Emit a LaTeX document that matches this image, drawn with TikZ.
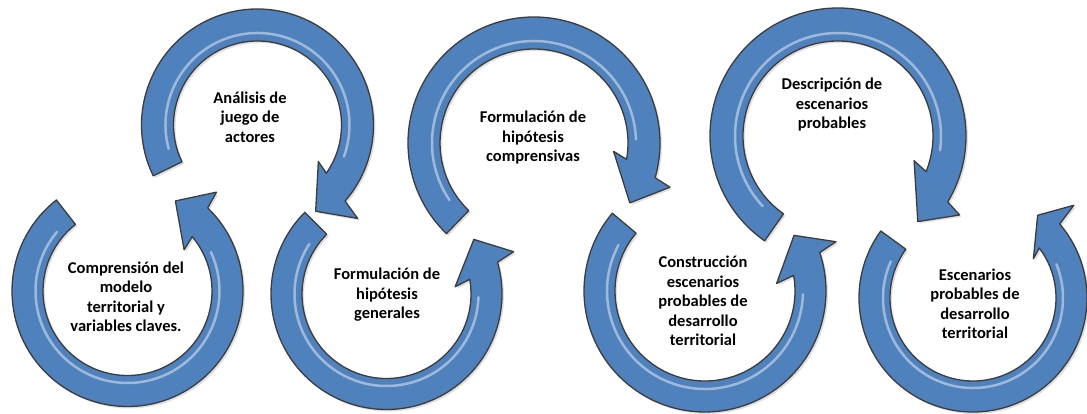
\documentclass[tikz,border=0pt]{standalone}
\usepackage{fontspec}
\setmainfont{Carlito}
\usetikzlibrary{shadows}
\definecolor{arrowblue}{RGB}{79,129,189}
\definecolor{arrowedge}{RGB}{60,60,60}
\tikzset{
  ringarrow/.style={fill=arrowblue, draw=arrowedge, line width=1.3pt, line join=round,
    drop shadow={opacity=0.25, shadow xshift=2pt, shadow yshift=-2pt}},
  gloss/.style={draw=white, opacity=0.45, line width=2.5pt, line cap=round},
  label/.style={align=center, font=\bfseries\fontsize{16.5}{19.5}\selectfont, text=black, inner sep=0pt}
}
\begin{document}
\begin{tikzpicture}[x=1pt,y=1pt]
\useasboundingbox (0,0) rectangle (1087,413);
% arrow 1
\begin{scope}[shift={(127.5,122)}]
\path[ringarrow] (128:115.5pt) arc[start angle=128, end angle=406, radius=115.5pt] -- (408:133pt) -- (422:102pt) -- (396:70pt) -- (400:84.5pt) arc[start angle=400, end angle=128, radius=84.5pt] -- cycle;
\draw[gloss] (140:92pt) arc[start angle=140, end angle=385, radius=92pt];
\end{scope}
% arrow A
\begin{scope}[shift={(257.5,288)}]
\path[ringarrow] (206:116pt) arc[start angle=206, end angle=-41, radius=116pt] -- (-43:137pt) -- (-56:104pt) -- (-31:71pt) -- (-35:84pt) arc[start angle=-35, end angle=206, radius=84pt] -- cycle;
\draw[gloss] (195:92pt) arc[start angle=195, end angle=-20, radius=92pt];
\end{scope}
% arrow 2
\begin{scope}[shift={(386.5,119)}]
\path[ringarrow] (135:115.5pt) arc[start angle=135, end angle=376, radius=115.5pt] -- (378.4:134pt) -- (392:103pt) -- (366:69pt) -- (370:84.5pt) arc[start angle=370, end angle=135, radius=84.5pt] -- cycle;
\draw[gloss] (147:92pt) arc[start angle=147, end angle=358, radius=92pt];
\end{scope}
% arrow B
\begin{scope}[shift={(534,270)}]
\path[ringarrow] (226:126pt) arc[start angle=226, end angle=-16, radius=126pt] -- (-18:143pt) -- (-32:113pt) -- (-6:80pt) -- (-10:94pt) arc[start angle=-10, end angle=226, radius=94pt] -- cycle;
\draw[gloss] (214:102pt) arc[start angle=214, end angle=2, radius=102pt];
\end{scope}
% arrow 3
\begin{scope}[shift={(705,122)}]
\path[ringarrow] (140:121pt) arc[start angle=140, end angle=378.5, radius=121pt] -- (380.6:140pt) -- (392:105pt) -- (366:72pt) -- (370:90pt) arc[start angle=370, end angle=140, radius=90pt] -- cycle;
\draw[gloss] (152:98pt) arc[start angle=152, end angle=358, radius=98pt];
\end{scope}
% arrow C
\begin{scope}[shift={(838,277)}]
\path[ringarrow] (235:128pt) arc[start angle=235, end angle=-31, radius=128pt] -- (-33:145pt) -- (-47:117pt) -- (-18:80pt) -- (-22:95pt) arc[start angle=-22, end angle=235, radius=95pt] -- cycle;
\draw[gloss] (223:103pt) arc[start angle=223, end angle=-8, radius=103pt];
\end{scope}
% arrow 4
\begin{scope}[shift={(973,115)}]
\path[ringarrow] (144:114pt) arc[start angle=144, end angle=400.5, radius=114pt] -- (402.6:137pt) -- (412:105pt) -- (393:72pt) -- (397:83pt) arc[start angle=397, end angle=144, radius=83pt] -- cycle;
\draw[gloss] (156:90pt) arc[start angle=156, end angle=382, radius=90pt];
\end{scope}
% labels
\node[label] (t1) at (126,116) {Comprensión del\\modelo\\territorial y\\variables claves.};
\node[label] (tA) at (250,296) {Análisis de\\juego de\\actores};
\node[label] (t2) at (387,118) {Formulación de\\hipótesis\\generales};
\node[label] (tB) at (533,275) {Formulación de\\hipótesis\\comprensivas};
\node[label] (t3) at (703,112) {Construcción\\escenarios\\probables de\\desarrollo\\territorial};
\node[label] (tC) at (832,308) {Descripción de\\escenarios\\probables};
\node[label] (t4) at (975,109) {Escenarios\\probables de\\desarrollo\\territorial};
\end{tikzpicture}
\end{document}
